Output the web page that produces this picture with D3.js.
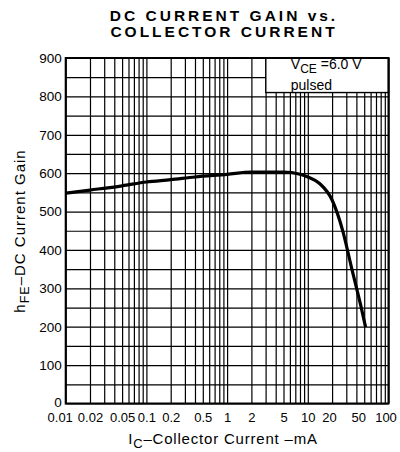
<!DOCTYPE html>
<html><head><meta charset="utf-8">
<script src="https://cdn.jsdelivr.net/npm/d3@7"></script>
<style>
body{margin:0;background:#fff;}
svg{display:block;font-family:"Liberation Sans",Arial,sans-serif;}
</style></head>
<body><svg id="c" width="400" height="452"></svg>
<script>
// Data
const current = [0.01, 0.02, 0.05, 0.1, 0.2, 0.4, 1, 2, 5, 8, 10, 14, 20, 27, 35, 45, 52];
const gain    = [548, 556, 567, 577, 583, 590, 597, 603, 603, 597, 590, 573, 530, 451, 352, 258, 199];
const xTickLabels = ["0.01","0.02","0.05","0.1","0.2","0.5","1","2","5","10","20","50","100"];
const yTickLabels = [0,100,200,300,400,500,600,700,800,900];
const titleLines = ["DC CURRENT GAIN vs.", "COLLECTOR CURRENT"];

const svg = d3.select("#c");
const m = {l:65.7, r:388.5, t:58, b:403.5};
const x = d3.scaleLog().domain([0.01,100]).range([m.l,m.r]);
const y = d3.scaleLinear().domain([0,900]).range([m.b,m.t]);

// grid values
const vGrid = [];
[0.01,0.1,1,10].forEach(d=>{for(let k=1;k<=9;k++) vGrid.push(+(d*k).toPrecision(3));});
vGrid.push(100);
const hGrid = d3.range(0,901,50);

const W = m.r-m.l, H = m.b-m.t;
svg.append("g").attr("transform",`translate(0,${m.b})`)
  .call(d3.axisBottom(x).tickValues(vGrid).tickSize(-H).tickFormat(""))
  .call(g=>g.select(".domain").remove())
  .call(g=>g.selectAll("line").attr("stroke","#000").attr("stroke-width",1.2));
svg.append("g").attr("transform",`translate(${m.l},0)`)
  .call(d3.axisLeft(y).tickValues(hGrid).tickSize(-W).tickFormat(""))
  .call(g=>g.select(".domain").remove())
  .call(g=>g.selectAll("line").attr("stroke","#000").attr("stroke-width",1.2));

// legend box
const lx = x(10)-42;
const lg = svg.append("g");
lg.append("rect").attr("x",lx).attr("y",m.t).attr("width",m.r-lx).attr("height",y(810)-m.t)
  .attr("fill","#fff").attr("stroke","#000").attr("stroke-width",1.4);
const t1 = lg.append("text").attr("x",lx+25).attr("y",68.5).attr("font-size",14).attr("fill","#000");
t1.append("tspan").text("V");
t1.append("tspan").attr("font-size",12).attr("dy",4).text("CE");
t1.append("tspan").attr("dy",-4).text(" =6.0 V");
lg.append("text").attr("x",lx+25).attr("y",89.5).attr("font-size",14).text("pulsed");

// frame
svg.append("rect").attr("x",m.l).attr("y",m.t).attr("width",W).attr("height",H)
  .attr("fill","none").attr("stroke","#000").attr("stroke-width",2);

// curve
const line = d3.line().x((d,i)=>x(current[i])).y(d=>y(d)).curve(d3.curveMonotoneX);
svg.append("path").attr("d",line(gain)).attr("fill","none").attr("stroke","#000")
  .attr("stroke-width",3.2).attr("stroke-linejoin","round");

// x tick labels
const xt = xTickLabels.map(Number);
svg.append("g").attr("transform",`translate(0,${m.b})`)
  .call(d3.axisBottom(x).tickValues(xt).tickSize(0).tickPadding(9.5).tickFormat((d,i)=>xTickLabels[i]))
  .call(g=>g.select(".domain").remove())
  .call(g=>g.selectAll("text").attr("font-size",13).attr("fill","#000")
     .attr("font-family","'Liberation Sans',Arial,sans-serif")
     .attr("dx",(d,i)=> i===0? -6 : (d===20? -3 : (d===50? -6 : (d===100? -3:0)))));

// y tick labels
svg.append("g").attr("transform",`translate(${m.l},0)`)
  .call(d3.axisLeft(y).tickValues(yTickLabels).tickSize(0).tickPadding(4))
  .call(g=>g.select(".domain").remove())
  .call(g=>g.selectAll("text").attr("font-size",13.5).attr("fill","#000")
     .attr("dy",(d)=> d===0 ? "0.2em" : "0.32em")
     .attr("font-family","'Liberation Sans',Arial,sans-serif"));

// title
svg.selectAll("text.title").data(titleLines).enter().append("text")
  .attr("class","title").attr("x",224).attr("y",(d,i)=>21+i*15.5)
  .attr("text-anchor","middle").attr("font-size",15.5).attr("font-weight","bold")
  .attr("letter-spacing",3).text(d=>d);

// x axis title
const xl = svg.append("text").attr("x",223).attr("y",444).attr("text-anchor","middle").attr("font-size",15).attr("letter-spacing",0.8);
xl.append("tspan").text("I");
xl.append("tspan").attr("font-size",13).attr("dy",4).text("C");
xl.append("tspan").attr("dy",-4).text("\u2013Collector  Current \u2013mA");

// y axis title
const yl = svg.append("text").attr("transform","translate(25,231) rotate(-90)").attr("text-anchor","middle")
  .attr("font-size",15).attr("letter-spacing",1);
yl.append("tspan").text("h");
yl.append("tspan").attr("font-size",12.5).attr("dy",4).text("FE");
yl.append("tspan").attr("dy",-4).text("\u2013DC  Current  Gain");
</script></body></html>
